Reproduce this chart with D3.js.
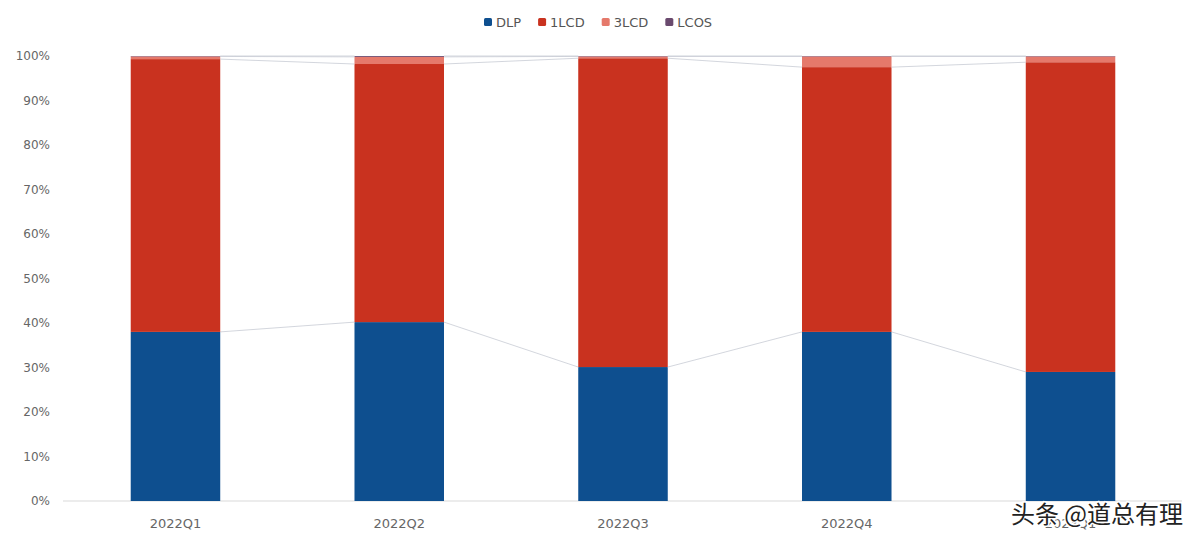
<!DOCTYPE html><html><head><meta charset="utf-8"><script src="https://cdn.jsdelivr.net/npm/d3@7"></script>
<style>body{margin:0;background:#fff}</style></head><body><svg id="c" width="1200" height="544"></svg>
<script>
const categories=["2022Q1","2022Q2","2022Q3","2022Q4","2023Q1"];
const seriesNames=["DLP","1LCD","3LCD","LCOS"];
const DLP=[38.0,40.2,30.1,38.0,29.0];
const LCD1=[61.3,58.0,69.4,59.5,69.6];
const LCD3=[0.6,1.6,0.4,2.4,1.3];
const LCOS=[0.1,0.2,0.1,0.1,0.1];
const yTicks=[0,10,20,30,40,50,60,70,80,90,100];
const colors=["#0e4f8f","#c9321f","#e5796b","#6a4a6e"];
const svg=d3.select("#c");
const x=d3.scaleBand().domain(categories).range([63.6,1182.4]).paddingInner(0.6).paddingOuter(0.3);
const y=d3.scaleLinear().domain([0,100]).range([501,56]);
const data=categories.map((c,i)=>({cat:c,DLP:DLP[i],"1LCD":LCD1[i],"3LCD":LCD3[i],LCOS:LCOS[i]}));
const stack=d3.stack().keys(seriesNames)(data);
svg.append("line").attr("x1",63).attr("x2",1182).attr("y1",y(0)).attr("y2",y(0)).attr("stroke","#d9d9d9");
svg.selectAll(".yt").data(yTicks).enter().append("text").attr("x",50).attr("y",d=>y(d)+4).attr("text-anchor","end")
 .attr("font-family","DejaVu Sans").attr("font-size",12).attr("fill","#666").text(d=>d+"%");
stack.forEach((s,k)=>{
 const g=svg.append("g");
 g.selectAll("rect").data(s).enter().append("rect").attr("x",d=>x(d.data.cat)).attr("width",x.bandwidth())
  .attr("y",d=>y(d[1])).attr("height",d=>y(d[0])-y(d[1])).attr("fill",colors[k]);
 for(let i=0;i<s.length-1;i++){
  svg.append("line").attr("x1",x(categories[i])+x.bandwidth()).attr("x2",x(categories[i+1]))
   .attr("y1",y(s[i][1])).attr("y2",y(s[i+1][1])).attr("stroke","#c8ccd4").attr("stroke-width",0.8);
 }
});
svg.selectAll(".xt").data(categories).enter().append("text").attr("x",d=>x(d)+x.bandwidth()/2).attr("y",528)
 .attr("text-anchor","middle").attr("font-family","DejaVu Sans").attr("font-size",13).attr("fill","#666").text(d=>d);
const lg=svg.append("g");
let lx=484;
seriesNames.forEach((n,k)=>{
 lg.append("rect").attr("x",lx).attr("y",18).attr("width",8).attr("height",8).attr("rx",1.5).attr("fill",colors[k]);
 const t=lg.append("text").attr("x",lx+12).attr("y",27).attr("font-family","DejaVu Sans").attr("font-size",13).attr("fill","#555").text(n);
 lx+=12+t.node().getComputedTextLength()+17;
});
svg.append("text").attr("x",1183).attr("y",523).attr("text-anchor","end").attr("font-family","Noto Sans CJK SC")
 .attr("font-size",24).attr("fill","#222").attr("stroke","#fff").attr("stroke-width",3).attr("paint-order","stroke").text("头条 @道总有理");
</script></body></html>
